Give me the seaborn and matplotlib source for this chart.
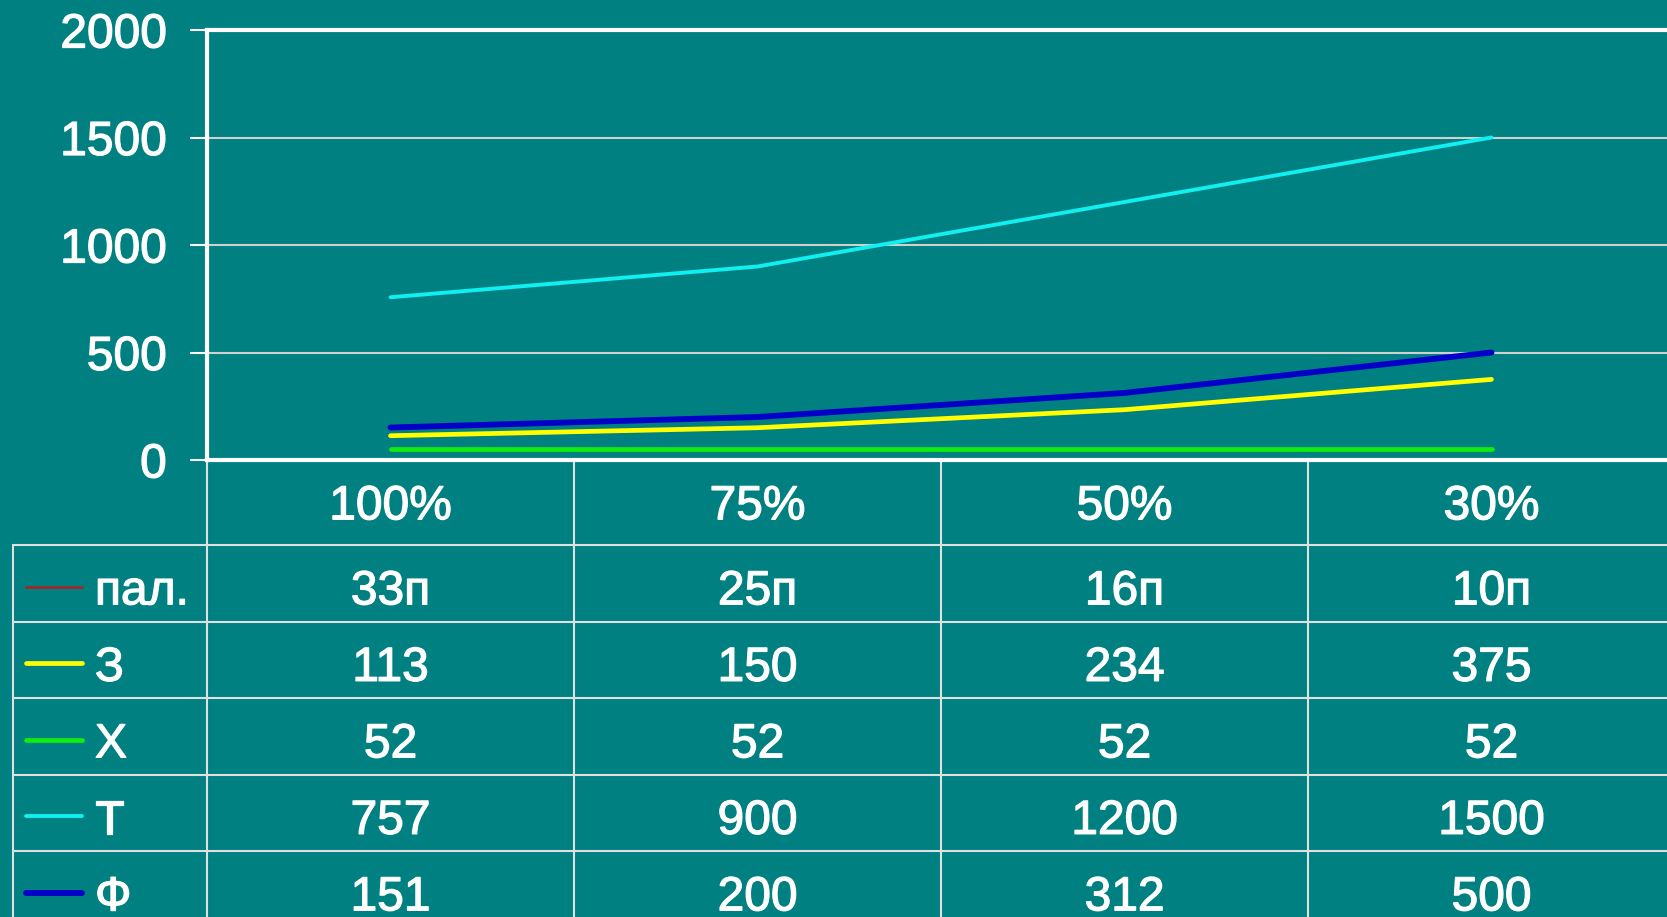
import numpy as np
import pandas as pd
import seaborn as sns
import matplotlib
matplotlib.use('Agg')
import matplotlib.pyplot as plt
import matplotlib.patheffects as pe
from matplotlib.transforms import blended_transform_factory

# Data
categories = ['100%', '75%', '50%', '30%']
series_names = ['пал.', 'З', 'Х', 'Т', 'Ф']
pal_values = ['33п', '25п', '16п', '10п']
z_values = [113, 150, 234, 375]
h_values = [52, 52, 52, 52]
t_values = [757, 900, 1200, 1500]
f_values = [151, 200, 312, 500]
y_ticks = [0, 500, 1000, 1500, 2000]

bg = '#008080'
colors = {'пал.': '#a02828', 'З': '#ffff00', 'Х': '#10ee10', 'Т': '#10f0f0', 'Ф': '#0000c8'}
widths = {'пал.': 1.5, 'З': 3.4, 'Х': 3.4, 'Т': 2.8, 'Ф': 4.2}

pos = list(range(len(categories)))
plotted = {'З': z_values, 'Х': h_values, 'Т': t_values, 'Ф': f_values}
df = pd.concat([pd.DataFrame({'x': pos, 'value': v, 'series': k}) for k, v in plotted.items()])

sns.set_style('ticks')
plt.rcParams['font.family'] = ['Liberation Sans', 'DejaVu Sans']

fs = 34.5
heavy = [pe.withStroke(linewidth=0.9, foreground='white')]

fig = plt.figure(figsize=(16.67, 9.17), dpi=100, facecolor=bg)
ax = fig.add_axes([207 / 1667, 457 / 917, 1468 / 1667, 430 / 917])
ax.set_facecolor(bg)

sns.lineplot(data=df, x='x', y='value', hue='series', palette=colors,
             size='series', sizes=widths, legend=False, ax=ax, sort=False)

ax.set_xlim(-0.5, len(categories) - 0.5)
ax.set_ylim(0, 2000)
ax.set_yticks(y_ticks)
ax.set_xticks([])
ax.set_xlabel('')
ax.set_ylabel('')
for y in y_ticks[1:-1]:
    ax.axhline(y, color='#d0d0d0', lw=1.5, zorder=0)
for s in ['top', 'left', 'bottom']:
    ax.spines[s].set_color('white')
    ax.spines[s].set_linewidth(3)
ax.spines['right'].set_visible(False)
ax.tick_params(axis='y', colors='white', length=12, width=1.5, pad=17,
               labelsize=fs, labelcolor='white')
for lab in ax.get_yticklabels():
    lab.set_path_effects(heavy)

# data table under the chart
tr = blended_transform_factory(ax.transData, ax.transAxes)
header_h = 85 / 430
row_h = 76.5 / 430
line_kw = dict(color='#e0e0e0', lw=1.5, clip_on=False)
left = -194 / 1468

# vertical lines
ax.plot([0, 0], [0, -1.2], transform=ax.transAxes, **line_kw)
ax.plot([left, left], [-header_h, -1.2], transform=ax.transAxes, **line_kw)
for i in pos[:-1]:
    ax.plot([i + 0.5, i + 0.5], [0, -1.2], transform=tr, **line_kw)
# horizontal lines
for r in range(len(series_names)):
    yy = -header_h - r * row_h
    ax.plot([left, 1.1], [yy, yy], transform=ax.transAxes, **line_kw)

txt_kw = dict(color='white', fontsize=fs, ha='center', va='center', clip_on=False,
              path_effects=heavy)
for i, c in enumerate(categories):
    ax.text(i, -header_h / 2 - 0.01, c, transform=tr, **txt_kw)

table_rows = {'пал.': pal_values, 'З': z_values, 'Х': h_values, 'Т': t_values, 'Ф': f_values}
for r, name in enumerate(series_names):
    yc = -header_h - (r + 0.5) * row_h - 0.02
    for i, v in enumerate(table_rows[name]):
        ax.text(i, yc, str(v), transform=tr, **txt_kw)
    ax.plot([-181 / 1468, -125 / 1468], [yc + 0.012, yc + 0.012], transform=ax.transAxes,
            color=colors[name], lw=widths[name] if name != 'пал.' else 2,
            solid_capstyle='round', clip_on=False)
    ax.text(-112 / 1468, yc, name, transform=ax.transAxes, color='white', fontsize=fs,
            ha='left', va='center', clip_on=False, path_effects=heavy)

fig.savefig('out.png', dpi=100, facecolor=bg)
